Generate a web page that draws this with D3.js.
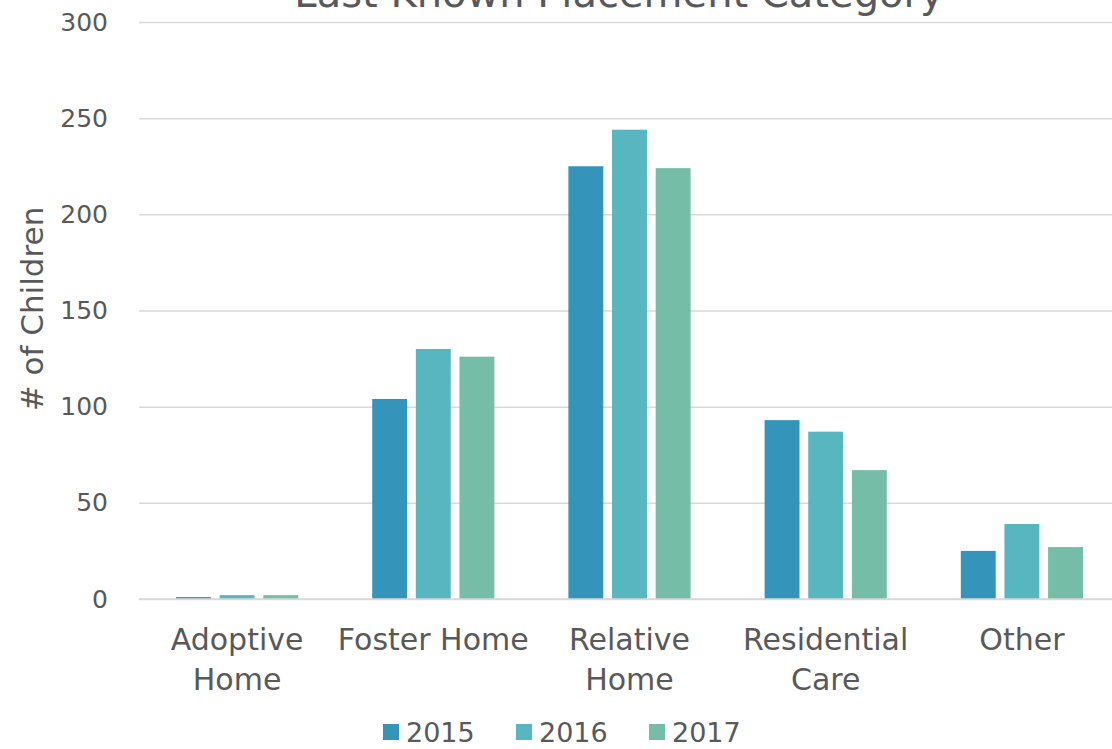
<!DOCTYPE html>
<html>
<head>
<meta charset="utf-8">
<script src="https://cdn.jsdelivr.net/npm/d3@7"></script>
<style>
  body { margin: 0; background: #fff; }
  svg text { font-family: "DejaVu Sans", sans-serif; fill: #595959; }
</style>
</head>
<body>
<div class="graph"></div>
<script>
// Chart data
const categories = [["Adoptive", "Home"], ["Foster Home"], ["Relative", "Home"], ["Residential", "Care"], ["Other"]];
const years = ["2015", "2016", "2017"];
const values2015 = [1, 104, 225, 93, 25];
const values2016 = [2, 130, 244, 87, 39];
const values2017 = [2, 126, 224, 67, 27];
const yTicks = [0, 50, 100, 150, 200, 250, 300];
const colors = ["#3494BA", "#58B6C0", "#75BDA7"];

const series = [values2015, values2016, values2017];

const dimensions = {
    width: 1112,
    height: 749,
    margins: { top: 22, right: 0, bottom: 150, left: 139 }
};
dimensions.boundedWidth = dimensions.width - dimensions.margins.left - dimensions.margins.right;
dimensions.boundedHeight = dimensions.height - dimensions.margins.top - dimensions.margins.bottom;
// the category bands run a little past the right edge of the picture
dimensions.bandWidth = 981;

const wrapper = d3.select(".graph")
    .append("svg")
        .attr("width", dimensions.width)
        .attr("height", dimensions.height);

// Title (cut off at the top in the original)
wrapper.append("text")
    .attr("x", 619)
    .attr("y", 7)
    .attr("text-anchor", "middle")
    .style("font-size", "40px")
    .text("Last Known Placement Category");

const bounds = wrapper.append("g")
    .attr("transform", `translate(${dimensions.margins.left},${dimensions.margins.top})`);

const yScale = d3.scaleLinear()
    .domain([0, 300])
    .range([dimensions.boundedHeight, 0]);

const x0 = d3.scaleBand()
    .domain(d3.range(categories.length))
    .range([0, dimensions.bandWidth]);

const x1 = d3.scaleBand()
    .domain(years)
    .range([37, x0.bandwidth() - 37])
    .paddingInner(0.2);

// gridlines
const yAxis = bounds.append("g")
    .call(d3.axisLeft(yScale).tickValues(yTicks).tickSize(-dimensions.boundedWidth).tickPadding(31));
yAxis.select(".domain").remove();
yAxis.selectAll(".tick line").attr("stroke", "#d9d9d9").attr("stroke-width", 1.5);
yAxis.selectAll(".tick text").style("font-size", "25px").attr("fill", "#595959");

// bars
const groups = bounds.append("g")
    .selectAll("g")
    .data(categories.map((c, i) => i))
    .join("g")
        .attr("transform", i => `translate(${x0(i)},0)`);

groups.selectAll("rect")
    .data(i => years.map((y, s) => ({ year: y, s: s, value: series[s][i] })))
    .join("rect")
        .attr("x", d => x1(d.year))
        .attr("width", x1.bandwidth())
        .attr("y", d => yScale(d.value))
        .attr("height", d => yScale(0) - yScale(d.value))
        .attr("fill", d => colors[d.s]);

// baseline
bounds.append("line")
    .attr("x1", 0).attr("x2", dimensions.boundedWidth)
    .attr("y1", yScale(0)).attr("y2", yScale(0))
    .attr("stroke", "#d9d9d9").attr("stroke-width", 1.5);

// category labels
const labels = bounds.append("g")
    .selectAll("text")
    .data(categories)
    .join("text")
        .attr("text-anchor", "middle")
        .attr("x", (c, i) => x0(i) + x0.bandwidth() / 2)
        .attr("y", dimensions.boundedHeight + 51)
        .style("font-size", "30px");
labels.selectAll("tspan")
    .data(c => c)
    .join("tspan")
        .attr("x", function() { return d3.select(this.parentNode).attr("x"); })
        .attr("dy", (d, j) => j === 0 ? 0 : 40)
        .text(d => d);

// y axis title
wrapper.append("text")
    .attr("transform", `translate(43,309) rotate(-90)`)
    .attr("text-anchor", "middle")
    .style("font-size", "31px")
    .text("# of Children");

// legend
const legend = wrapper.append("g")
    .attr("transform", "translate(383,724)");
const items = legend.selectAll("g")
    .data(years)
    .join("g")
        .attr("transform", (d, i) => `translate(${i * 133},0)`);
items.append("rect")
    .attr("width", 16).attr("height", 16)
    .attr("fill", (d, i) => colors[i]);
items.append("text")
    .attr("x", 23)
    .attr("y", 18)
    .style("font-size", "27px")
    .text(d => d);
</script>
</body>
</html>
